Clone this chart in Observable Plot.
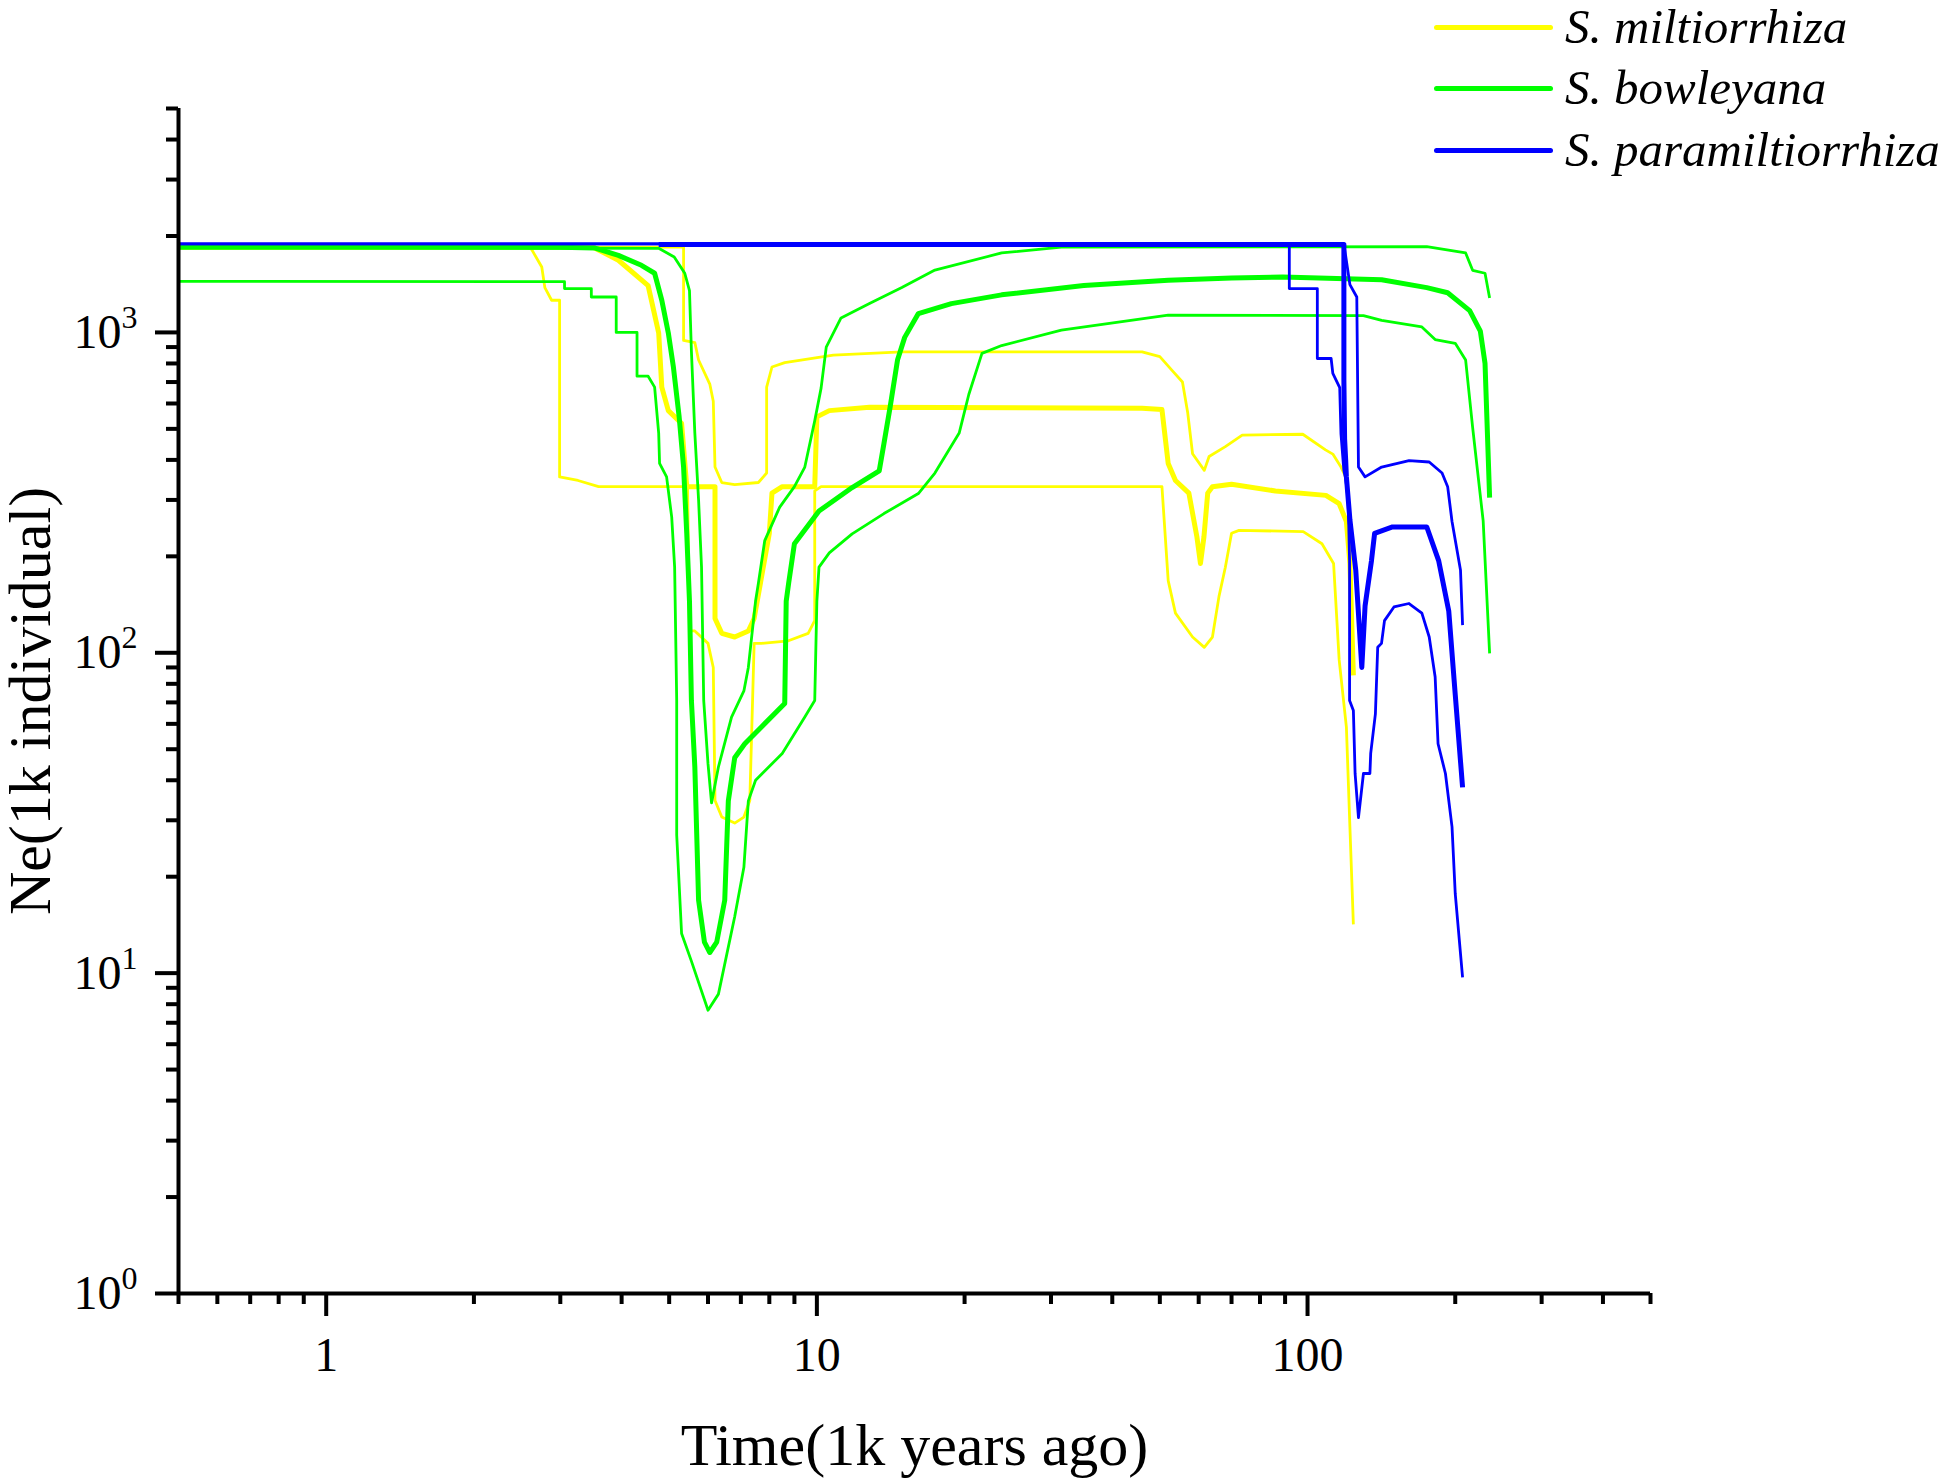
<!DOCTYPE html>
<html><head><meta charset="utf-8">
<script src="https://cdn.jsdelivr.net/npm/d3@7"></script>
<script src="https://cdn.jsdelivr.net/npm/@observablehq/plot@0.6"></script>
<style>
body{margin:0;background:#fff;}
#wrap{position:relative;width:1955px;height:1483px;}
#legend{position:absolute;left:1434px;top:0;font-family:"Liberation Serif",serif;font-style:italic;font-size:49px;color:#000;}
.row{position:absolute;left:0;white-space:nowrap;display:flex;align-items:center;height:54px;line-height:54px;}
.sw{width:119px;height:5px;margin-right:12px;border-radius:2.5px;}
</style></head>
<body><div id="wrap"><div id="chart"></div><div id="legend"></div></div>
<script>
// ---------- data (time in 1k years ago, Ne in 1k individuals) ----------
const species = ["S. miltiorrhiza", "S. bowleyana", "S. paramiltiorrhiza"];
const speciesColors = ["#ffff00", "#00ff00", "#0000ff"];

// S. miltiorrhiza
const miltMedT  = [0.5,3.5,3.94,4.53,4.76,4.83,4.98,5.3,5.43,6.2,6.2,6.4,6.8,7.25,7.45,8.0,8.1,8.5,9.9,10.0,10.6,12.8,46,50.5,52,53.8,57.3,59.5,60.5,61.5,62.6,64,70,86,109,116,120,122,124];
const miltMedNe = [1845,1845,1680,1400,996,675,570,520,330,330,128,115,112,117,128,236,315,330,330,545,570,584,580,575,390,345,315,230,190,230,315,330,336,320,310,292,257,190,85];
const miltUpT   = [0.5,5.35,5.35,5.64,5.74,6.05,6.15,6.2,6.4,6.8,7.6,7.9,7.9,8.1,8.6,10.8,14.9,46,50,53,55.6,57,58.3,61.6,63,68,73.6,97.8,108.8,112.6,117,120];
const miltUpNe  = [1845,1845,944,930,820,690,610,380,340,335,340,364,675,780,805,850,870,870,840,760,700,560,418,371,410,440,478,481,430,417,380,350];
const miltLoT   = [0.5,2.55,2.62,2.75,2.79,2.88,2.99,2.99,3.26,3.59,5.45,5.5,5.64,6.0,6.15,6.2,6.4,6.8,7.1,7.3,7.45,7.7,8.75,9.6,9.9,9.9,10.2,50.5,52,53.8,58.3,61.6,64,66,68,70,72.5,98,107,113,116,120,122,124];
const miltLoNe  = [1845,1845,1820,1600,1380,1260,1260,354,345,330,330,117,117,107,90,34.6,30.7,29.4,30.7,34.6,107,107,109,115,126,320,330,330,168,133,112,104,112,150,185,236,241,239,219,190,95,58.6,28.6,14.2];

// S. bowleyana
const bowMedT  = [0.5,3.0,3.52,3.94,4.39,4.67,4.83,4.98,5.1,5.24,5.35,5.43,5.5,5.55,5.64,5.74,5.9,6.05,6.25,6.49,6.6,6.8,7.13,7.7,8.6,8.66,8.76,9.0,10.1,11.8,13.4,13.7,14.1,14.6,15.1,16.1,18.8,23.8,35,52,70,89,141.6,175,193,214,225,230,235];
const bowMedNe = [1845,1845,1835,1740,1620,1530,1260,996,780,545,380,236,145,71,44,16.9,12.5,11.6,12.5,16.9,34.5,47,52,58.6,69.5,145,165,219,277,328,370,450,584,820,965,1145,1230,1310,1400,1456,1480,1490,1460,1380,1330,1170,1010,800,305];
const bowUpT   = [0.5,4.76,5.12,5.38,5.5,5.55,5.64,5.74,5.82,5.88,6.0,6.1,6.3,6.7,7.1,7.25,7.5,7.6,7.83,8.4,9.0,9.45,9.9,10.2,10.45,11.2,12.8,14.9,17.4,23.8,31.5,175,210,217,230,235];
const bowUpNe  = [1845,1830,1720,1530,1350,875,485,300,185,71,45,34,44,63,76,90,145,165,224,285,330,380,530,670,900,1110,1230,1380,1565,1770,1845,1852,1770,1563,1530,1280];
const bowLoT   = [0.5,3.06,3.06,3.47,3.47,3.9,3.9,4.3,4.3,4.53,4.67,4.76,4.78,4.94,5.06,5.13,5.18,5.18,5.3,5.55,6.0,6.3,6.8,7.1,7.25,7.5,8.5,9.45,9.9,10.0,10.1,10.6,11.8,13.7,16.1,17.4,19.5,20.4,21.7,23.8,31.5,52,130,141.6,171,182,200,210,217,228,235];
const bowLoNe  = [1444,1440,1370,1370,1290,1290,1000,1000,730,730,675,485,390,354,265,185,71,27,13.3,10.9,7.66,8.6,15,21.4,34.5,40,48.5,63,71,145,185,205,235,272,314,364,485,640,860,910,1016,1133,1128,1090,1040,950,925,820,505,258,99.6];

// S. paramiltiorrhiza
const paraMedT  = [4.76,118.6,118.6,119,119.6,120,122,125.4,127.5,129,131,135,137,149,175,185,194,200,207];
const paraMedNe = [1880,1880,710,465,400,354,260,181,120,90,140,194,236,247,247,194,135,74,38];
const paraUpT   = [0.5,118.6,122,126,127,131,141.6,161,177,188,193,197,205,207];
const paraUpNe  = [1890,1890,1410,1290,380,354,380,398,394,364,330,257,181,122];
const paraLoT   = [0.5,91.8,91.8,104.7,104.7,111.7,112.6,116.3,117,118.6,119.6,121,121.8,121.8,124,125,127,130,134,134.5,137.5,139,141.5,143.5,150,161,171,177,182,184.5,191,197,200,207];
const paraLoNe  = [1890,1890,1370,1370,829,829,745,673,481,370,350,300,194,71,66,42,30.6,42,42,48.5,64.5,104,107,126,139,142.5,133,112,84,52,42,28.6,17.7,9.7];

// axis ticks
const xMajor = [1, 10, 100];
const xMinor = [0.5,0.6,0.7,0.8,0.9,2,3,4,5,6,7,8,9,20,30,40,50,60,70,80,90,200,300,400,500];
const yMajor = [1, 10, 100, 1000];
const yMinor = [2,3,4,5,6,7,8,9,20,30,40,50,60,70,80,90,200,300,400,500,600,700,800,900,2000,3000,4000,5000];

// ---------- build ----------
const series = [
  {sp: 0, T: miltLoT, N: miltLoNe, thick: false},
  {sp: 0, T: miltUpT, N: miltUpNe, thick: false},
  {sp: 0, T: miltMedT, N: miltMedNe, thick: true},
  {sp: 1, T: bowLoT, N: bowLoNe, thick: false},
  {sp: 1, T: bowUpT, N: bowUpNe, thick: false},
  {sp: 1, T: bowMedT, N: bowMedNe, thick: true},
  {sp: 2, T: paraLoT, N: paraLoNe, thick: false},
  {sp: 2, T: paraUpT, N: paraUpNe, thick: false},
  {sp: 2, T: paraMedT, N: paraMedNe, thick: true}
];

const lineMarks = series.map(s => Plot.line(s.T.map((t, i) => ({t, ne: s.N[i]})), {
  x: "t", y: "ne", stroke: speciesColors[s.sp], strokeWidth: s.thick ? 5 : 2.8,
  strokeLinejoin: "round", strokeLinecap: "butt"
}));

const plot = Plot.plot({
  width: 1955, height: 1483,
  marginLeft: 178, marginRight: 305, marginTop: 108, marginBottom: 190,
  style: {fontFamily: '"Liberation Serif", serif', fontSize: "48px", background: "white", color: "black", overflow: "visible"},
  x: {type: "log", domain: [0.5, 500]},
  y: {type: "log", domain: [1, 5000]},
  marks: [
    ...lineMarks,
    Plot.axisX({ticks: xMinor, tickSize: 11, tickFormat: () => "", strokeWidth: 4, label: null}),
    Plot.axisX({ticks: xMajor, tickSize: 23, tickPadding: 20, tickFormat: d => String(d), strokeWidth: 4, label: null, fontSize: 48}),
    Plot.axisY({ticks: yMinor, tickSize: 12, tickFormat: () => "", strokeWidth: 4, label: null}),
    Plot.axisY({ticks: yMajor, tickSize: 23, tickPadding: 18, tickFormat: d => String(Math.round(Math.log10(d))), strokeWidth: 4, label: null, fontSize: 48}),
    Plot.ruleX([0.5], {strokeWidth: 4}),
    Plot.ruleY([1], {strokeWidth: 4}),
    Plot.text(["Time(1k years ago)"], {text: d => d, frameAnchor: "bottom", textAnchor: "middle", lineAnchor: "middle", dy: 152, fontSize: 60}),
    Plot.text(["Ne(1k individual)"], {text: d => d, frameAnchor: "left", textAnchor: "middle", lineAnchor: "middle", dx: -148, rotate: -90, fontSize: 60})
  ]
});

// superscript exponents on y tick labels
const ns = "http://www.w3.org/2000/svg";
plot.querySelectorAll('g[aria-label="y-axis tick label"] text').forEach(t => {
  const e = t.textContent;
  if (!e) return;
  t.textContent = "";
  const a = document.createElementNS(ns, "tspan"); a.textContent = "10";
  const b = document.createElementNS(ns, "tspan"); b.textContent = e;
  b.setAttribute("dy", "-20"); b.setAttribute("font-size", "32");
  t.append(a, b);
});
document.getElementById("chart").append(plot);

// legend
const leg = document.getElementById("legend");
const centers = [27, 88, 150];
species.forEach((name, i) => {
  const row = document.createElement("div");
  row.className = "row";
  row.style.top = (centers[i] - 27) + "px";
  const sw = document.createElement("div");
  sw.className = "sw"; sw.style.background = speciesColors[i];
  const tx = document.createElement("span");
  tx.textContent = name;
  row.append(sw, tx);
  leg.append(row);
});
</script>
</body></html>
